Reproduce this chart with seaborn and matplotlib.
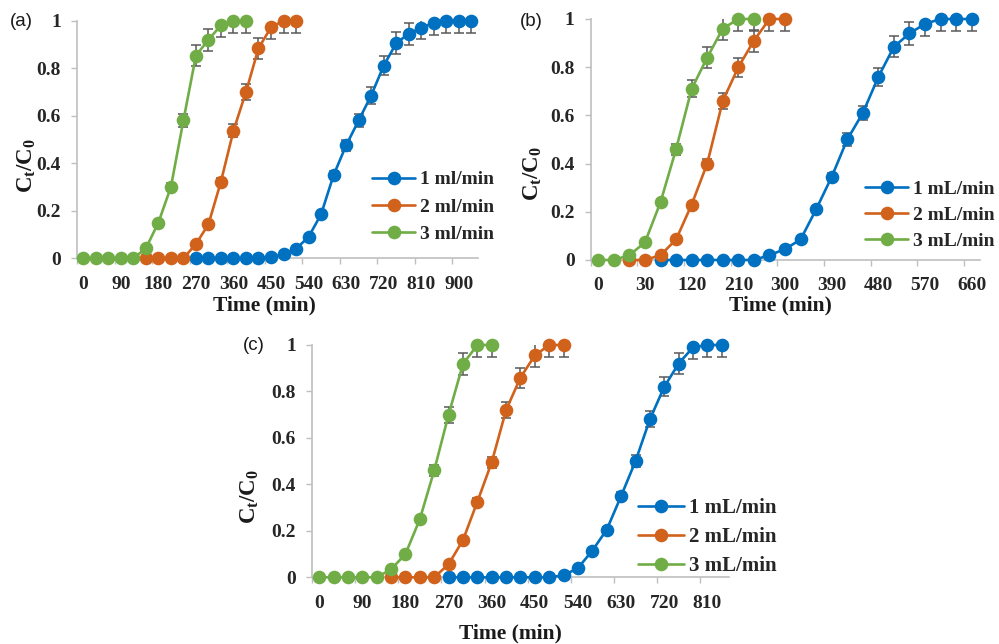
import numpy as np
import matplotlib
matplotlib.use('Agg')
import matplotlib.pyplot as plt
import seaborn as sns

sns.set_style('white')
plt.rcParams['font.family'] = ['Liberation Serif', 'DejaVu Serif']
plt.rcParams['mathtext.fontset'] = 'custom'
plt.rcParams['mathtext.rm'] = 'Liberation Serif'
plt.rcParams['mathtext.it'] = 'Liberation Serif:italic'
plt.rcParams['mathtext.bf'] = 'Liberation Serif:bold'

# ---------------- data ----------------
# Panel (a): category axis (min)
cats_a = [0, 30, 60, 90, 120, 150, 180, 210, 240, 270, 300, 330, 360, 390, 420, 450,
          480, 510, 540, 570, 600, 630, 660, 690, 720, 750, 780, 810, 840, 870, 900, 930]
a_t1 = [270, 300, 330, 360, 390, 420, 450, 480, 510, 540, 570, 600, 630, 660, 690, 720,
        750, 780, 810, 840, 870, 900, 930]
a_y1 = [0, 0, 0, 0, 0, 0, 0.005, 0.017, 0.04, 0.09, 0.185, 0.35, 0.475, 0.58, 0.685, 0.81,
        0.905, 0.945, 0.97, 0.99, 1.0, 1.0, 1.0]
a_t2 = [150, 180, 210, 240, 270, 300, 330, 360, 390, 420, 450, 480, 510]
a_y2 = [0, 0, 0, 0, 0.06, 0.143, 0.323, 0.537, 0.70, 0.884, 0.972, 1.0, 1.0]
a_t3 = [0, 30, 60, 90, 120, 150, 180, 210, 240, 270, 300, 330, 360, 390]
a_y3 = [0, 0, 0, 0, 0, 0.042, 0.15, 0.30, 0.58, 0.853, 0.92, 0.98, 1.0, 1.0]
labels_a = ['1 ml/min', '2 ml/min', '3 ml/min']

# Panel (b)
cats_b = [0, 10, 20, 30, 60, 90, 120, 150, 180, 210, 240, 270, 300, 330, 360, 390, 420,
          450, 480, 510, 540, 570, 600, 630, 660]
b_t1 = [60, 90, 120, 150, 180, 210, 240, 270, 300, 330, 360, 390, 420, 450, 480, 510,
        540, 570, 600, 630, 660]
b_y1 = [0, 0, 0, 0, 0, 0, 0, 0.02, 0.045, 0.085, 0.21, 0.345, 0.50, 0.61, 0.76, 0.885,
        0.94, 0.98, 1.0, 1.0, 1.0]
b_t2 = [20, 30, 60, 90, 120, 150, 180, 210, 240, 270, 300]
b_y2 = [0, 0, 0.02, 0.085, 0.23, 0.40, 0.66, 0.80, 0.91, 1.0, 1.0]
b_t3 = [0, 10, 20, 30, 60, 90, 120, 150, 180, 210, 240]
b_y3 = [0, 0, 0.02, 0.073, 0.24, 0.46, 0.71, 0.84, 0.96, 1.0, 1.0]
labels_b = ['1 mL/min', '2 mL/min', '3 mL/min']

# Panel (c)
cats_c = [0, 30, 60, 90, 120, 150, 180, 210, 240, 270, 300, 330, 360, 390, 420, 450,
          480, 510, 540, 570, 600, 630, 660, 690, 720, 750, 780, 810, 840]
c_t1 = [270, 300, 330, 360, 390, 420, 450, 480, 510, 540, 570, 600, 630, 660, 690, 720,
        750, 780, 810, 840]
c_y1 = [0, 0, 0, 0, 0, 0, 0, 0, 0.008, 0.04, 0.115, 0.205, 0.35, 0.50, 0.68, 0.82,
        0.92, 0.99, 1.0, 1.0]
c_t2 = [150, 180, 210, 240, 270, 300, 330, 360, 390, 420, 450, 480, 510]
c_y2 = [0, 0, 0, 0, 0.056, 0.16, 0.325, 0.495, 0.72, 0.86, 0.955, 1.0, 1.0]
c_t3 = [0, 30, 60, 90, 120, 150, 180, 210, 240, 270, 300, 330, 360]
c_y3 = [0, 0, 0, 0, 0, 0.034, 0.10, 0.25, 0.46, 0.70, 0.918, 1.0, 1.0]
labels_c = ['1 mL/min', '2 mL/min', '3 mL/min']

ERR_PCT = 5  # percentage error bars
yticks = [0, 0.2, 0.4, 0.6, 0.8, 1.0]
ytick_labels = ['0', '0.2', '0.4', '0.6', '0.8', '1']

COLORS = ['#0070C0', '#D0621C', '#70AD47']
ERR_COLOR = '#595959'
AX_COLOR = '#BFBFBF'

fig = plt.figure(figsize=(9.99, 6.44), dpi=100)

def draw(rect, cats, series, labels, leg_anchor, leg_fs, leg_spacing,
         xlab_pos, ylab_pos, tag, tag_pos):
    ax = fig.add_axes(rect)
    for (t, y), color, lab in zip(series, COLORS, labels):
        x = [cats.index(v) for v in t]
        y = np.asarray(y, dtype=float)
        ax.errorbar(x, y, yerr=y * ERR_PCT / 100.0, fmt='none', ecolor=ERR_COLOR,
                    elinewidth=1.1, capsize=3.6, capthick=1.1, zorder=2)
        sns.lineplot(x=x, y=y, ax=ax, color=color, marker='o', markersize=9.8,
                     markeredgewidth=0, linewidth=1.9, label=lab, zorder=3,
                     clip_on=False)
    n = len(cats)
    ax.set_xlim(-0.5, n - 0.5)
    ax.set_ylim(0, 1)
    ax.set_xticks(range(0, n, 3))
    ax.set_xticklabels([str(c) for c in cats[::3]], fontsize=14, fontweight='bold')
    ax.set_xticks(np.arange(-0.5, n, 3), minor=True)
    ax.set_yticks(yticks)
    ax.set_yticklabels(ytick_labels, fontsize=14, fontweight='bold')
    ax.tick_params(axis='x', which='major', length=0, pad=12.5, colors='#262626')
    ax.tick_params(axis='x', which='minor', length=4, width=1, color=AX_COLOR,
                   direction='out', bottom=True)
    ax.tick_params(axis='y', length=4.5, width=1, color=AX_COLOR, direction='out',
                   left=True, pad=7, labelcolor='#262626')
    for s in ['top', 'right']:
        ax.spines[s].set_visible(False)
    for s in ['left', 'bottom']:
        ax.spines[s].set_color(AX_COLOR)
        ax.spines[s].set_linewidth(1.2)
    ax.set_xlabel('Time (min)', fontsize=15.5, fontweight='bold', color='#1a1a1a')
    ax.xaxis.set_label_coords(*xlab_pos)
    ax.xaxis.label.set_va('center')
    ax.set_ylabel(r'$\mathbf{C_t/C_0}$', fontsize=16.5, color='#1a1a1a')
    ax.yaxis.set_label_coords(*ylab_pos)
    ax.yaxis.label.set_va('center')
    ax.legend(loc='center left', bbox_to_anchor=leg_anchor, frameon=False,
              prop={'family': 'Liberation Serif', 'weight': 'bold', 'size': leg_fs},
              handlelength=2.2, handletextpad=0.25, labelspacing=leg_spacing,
              borderpad=0, borderaxespad=0)
    fig.text(tag_pos[0], tag_pos[1], tag, fontsize=13.5, family='Liberation Sans',
             ha='left', va='center', color='#1a1a1a')
    return ax

draw([0.0771, 0.5989, 0.4009, 0.3690], cats_a,
     [(a_t1, a_y1), (a_t2, a_y2), (a_t3, a_y3)], labels_a,
     (0.737, 0.216), 14, 0.5, (0.469, -0.197), (-0.125, 0.39),
     '(a)', (10 / 999, 1 - 22 / 644))
draw([0.5911, 0.5963, 0.3894, 0.3742], cats_b,
     [(b_t1, b_y1), (b_t2, b_y2), (b_t3, b_y3)], labels_b,
     (0.706, 0.187), 14, 0.42, (0.487, -0.187), (-0.148, 0.36),
     '(b)', (520 / 999, 1 - 22 / 644))
draw([0.3123, 0.1036, 0.4174, 0.3607], cats_c,
     [(c_t1, c_y1), (c_t2, c_y2), (c_t3, c_y3)], labels_c,
     (0.782, 0.173), 15, 0.42, (0.475, -0.240), (-0.149, 0.35),
     '(c)', (243 / 999, 1 - 346 / 644))

fig.savefig('out.png', dpi=100)
